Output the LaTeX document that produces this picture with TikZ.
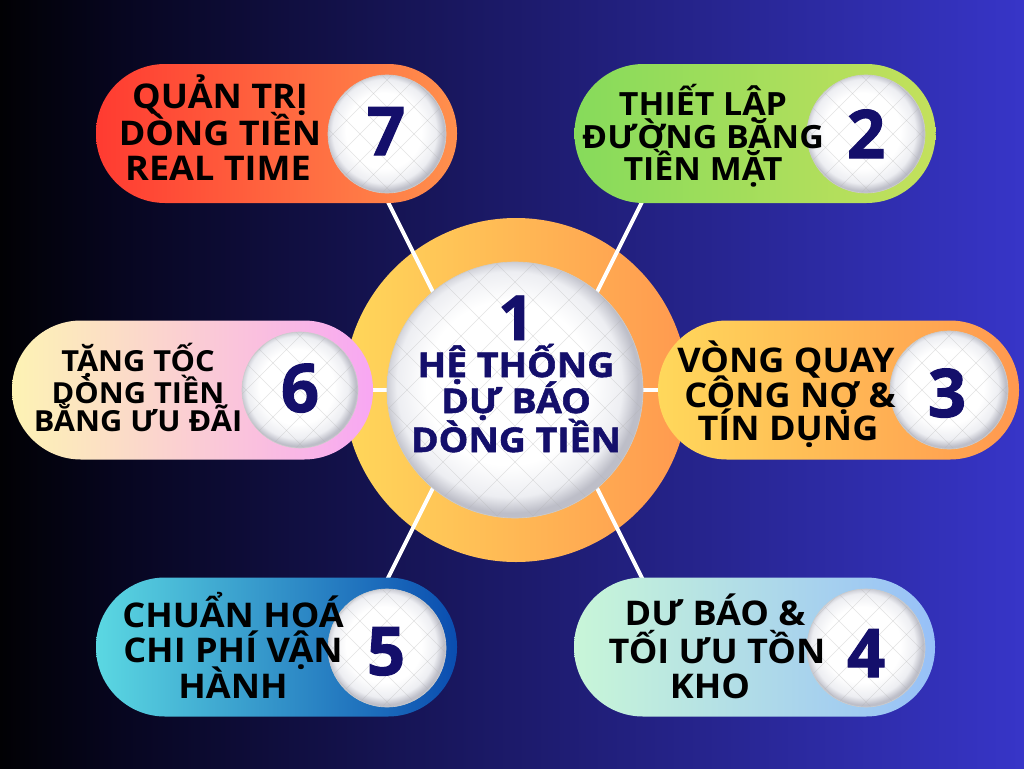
\documentclass[tikz,border=0pt]{standalone}
\usepackage{fontspec}
\setmainfont{Open Sans}[BoldFeatures={FakeStretch=1.06}]
\newfontfamily\heavyfont{Open Sans}[BoldFeatures={FakeBold=1.5}]
\newfontfamily\wideheavy{Open Sans}[BoldFeatures={FakeBold=1.6, FakeStretch=1.1}]
\usetikzlibrary{calc}
\definecolor{navy}{HTML}{140F6B}
\definecolor{bgA}{HTML}{010104}
\definecolor{bgB}{HTML}{070620}
\definecolor{bgC}{HTML}{1C1A6A}
\definecolor{bgD}{HTML}{3735C8}
\definecolor{ballB}{HTML}{EDEEF2}
\definecolor{ballC}{HTML}{BDBEC8}
\definecolor{ringL}{HTML}{FFD75A}
\definecolor{ringR}{HTML}{FF994F}
\definecolor{p7L}{HTML}{FF3B31}
\definecolor{p7R}{HTML}{FF904D}
\definecolor{p2L}{HTML}{86DB5B}
\definecolor{p2R}{HTML}{C4E05C}
\definecolor{p6L}{HTML}{FDF3B4}
\definecolor{p6M}{HTML}{FBCFD3}
\definecolor{p6R}{HTML}{F8A7F3}
\definecolor{p3L}{HTML}{FFD85B}
\definecolor{p3R}{HTML}{FF984F}
\definecolor{p5L}{HTML}{5BD8E2}
\definecolor{p5M}{HTML}{2D8ECC}
\definecolor{p5R}{HTML}{0A4DB0}
\definecolor{p4L}{HTML}{C8F6D8}
\definecolor{p4R}{HTML}{97C0F8}
\pgfdeclarehorizontalshading{bgshade}{100bp}{color(0bp)=(bgA); color(25bp)=(bgA); color(31bp)=(bgB); color(50bp)=(bgC); color(75bp)=(bgD); color(100bp)=(bgD)}
\pgfdeclareradialshading{ballshade}{\pgfpoint{-2bp}{2bp}}{color(0bp)=(white); color(16bp)=(white); color(22bp)=(ballB); color(25bp)=(ballC); color(50bp)=(ballC)}
\tikzset{
  pill/.style={rectangle, rounded corners=69pt, minimum width=361pt, minimum height=139pt, inner sep=0pt},
  ballnode/.style={circle, inner sep=0pt, shading=ballshade},
  gridline/.style={draw=black!30, opacity=0.35, line width=0.6pt},
  lbl/.style={anchor=base, inner sep=0pt, text=black, font=\fontsize{34}{34}\selectfont\bfseries},
  num/.style={anchor=base, inner sep=0pt, text=navy, font=\heavyfont\fontsize{67}{67}\selectfont\bfseries},
  ctrtxt/.style={anchor=base, inner sep=0pt, text=navy, font=\wideheavy\fontsize{34}{34}\selectfont\bfseries},
  link/.style={draw=white, line width=4pt},
}
\newcommand\drawball[5]{%
  \node[ballnode, minimum size=#4*2pt] (#1) at (#2,#3) {};
  \begin{scope}
    \clip (#2,#3) circle (#4pt);
    \foreach \k in {-6,...,6} {
      \draw[gridline] ({#2+\k*#5-150},{#3-150}) -- ++(300,300);
      \draw[gridline] ({#2+\k*#5-150},{#3+150}) -- ++(300,-300);
    }
  \end{scope}
  \draw[black!20, line width=0.6pt] (#2,#3) circle (#4pt);
}
\begin{document}
\begin{tikzpicture}[x=1pt,y=-1pt]
\useasboundingbox (0,0) rectangle (1024,768);
\shade[shading=bgshade] (0,0) rectangle (1024,768);
% ring
\node[circle, minimum size=344pt, inner sep=0pt, left color=ringL, right color=ringR] (ring) at (516,390) {};
% connectors
\coordinate (l7a) at (380,186); \coordinate (l7b) at (470,366);
\coordinate (l2a) at (650,186); \coordinate (l2b) at (560,366);
\coordinate (l5a) at (380,594); \coordinate (l5b) at (470,414);
\coordinate (l4a) at (650,594); \coordinate (l4b) at (560,414);
\coordinate (l6a) at (360,390); \coordinate (l6b) at (400,390);
\coordinate (l3a) at (630,390); \coordinate (l3b) at (670,390);
\draw[link] (l7a) -- (l7b);
\draw[link] (l2a) -- (l2b);
\draw[link] (l5a) -- (l5b);
\draw[link] (l4a) -- (l4b);
\draw[link] (l6a) -- (l6b);
\draw[link] (l3a) -- (l3b);
% pills
\node[pill, left color=p7L, right color=p7R] (p7) at (276.5,133.5) {};
\node[pill, left color=p2L, right color=p2R] (p2) at (755,133.5) {};
\node[pill, left color=p6L, middle color=p6M, right color=p6R] (p6) at (192.5,390) {};
\node[pill, left color=p3L, right color=p3R] (p3) at (838.5,390) {};
\node[pill, left color=p5L, middle color=p5M, right color=p5R] (p5) at (276.5,647) {};
\node[pill, left color=p4L, right color=p4R] (p4) at (754.5,647) {};
% balls
\drawball{b7}{387}{134}{59}{27}
\drawball{b2}{866}{134}{59}{27}
\drawball{b6}{300}{390}{58}{27}
\drawball{b3}{949}{390}{59}{27}
\drawball{b5}{387}{648}{59}{27}
\drawball{b4}{866}{648}{59}{27}
\drawball{c}{515}{390}{128}{36}
% numbers
\node[num] (n7) at (386,155) {7};
\node[num] (n2) at (866,158) {2};
\node[num] (n6) at (300,412) {6};
\node[num] (n3) at (947,417) {3};
\node[num] (n5) at (386,675) {5};
\node[num] (n4) at (866,677) {4};
% centre text
\node[ctrtxt, font=\heavyfont\fontsize{62}{62}\selectfont\bfseries] (c1) at (516,340) {1};
\node[ctrtxt] (ca) at (516,377) {HỆ THỐNG};
\node[ctrtxt] (cb) at (516,413) {DỰ BÁO};
\node[ctrtxt] (cc) at (516,452) {DÒNG TIỀN};
% labels
\node[lbl] (t7a) at (220,108) {QUẢN TRỊ};
\node[lbl] (t7b) at (220,145) {DÒNG TIỀN};
\node[lbl] (t7c) at (218,180) {REAL TIME};
\node[lbl, font=\fontsize{32}{32}\selectfont\bfseries] (t2a) at (703,115) {THIẾT LẬP};
\node[lbl, font=\fontsize{32}{32}\selectfont\bfseries] (t2b) at (703,148) {ĐƯỜNG BĂNG};
\node[lbl, font=\fontsize{32}{32}\selectfont\bfseries] (t2c) at (703,180) {TIỀN MẶT};
\node[lbl, font=\fontsize{29}{29}\selectfont\bfseries] (t6a) at (138,371) {TẶNG TỐC};
\node[lbl, font=\fontsize{29}{29}\selectfont\bfseries] (t6b) at (138,403) {DÒNG TIỀN};
\node[lbl, font=\fontsize{29}{29}\selectfont\bfseries] (t6c) at (138,431) {BẰNG ƯU ĐÃI};
\node[lbl] (t3a) at (786,372) {VÒNG QUAY};
\node[lbl] (t3b) at (790,407) {CÔNG NỢ \&};
\node[lbl] (t3c) at (788,440) {TÍN DỤNG};
\node[lbl] (t5a) at (233,627) {CHUẨN HOÁ};
\node[lbl] (t5b) at (233,662) {CHI PHÍ VẬN};
\node[lbl] (t5c) at (233,698) {HÀNH};
\node[lbl] (t4a) at (715,625) {DƯ BÁO \&};
\node[lbl] (t4b) at (717,663) {TỐI ƯU TỒN};
\node[lbl] (t4c) at (710,698) {KHO};
\end{tikzpicture}
\end{document}
